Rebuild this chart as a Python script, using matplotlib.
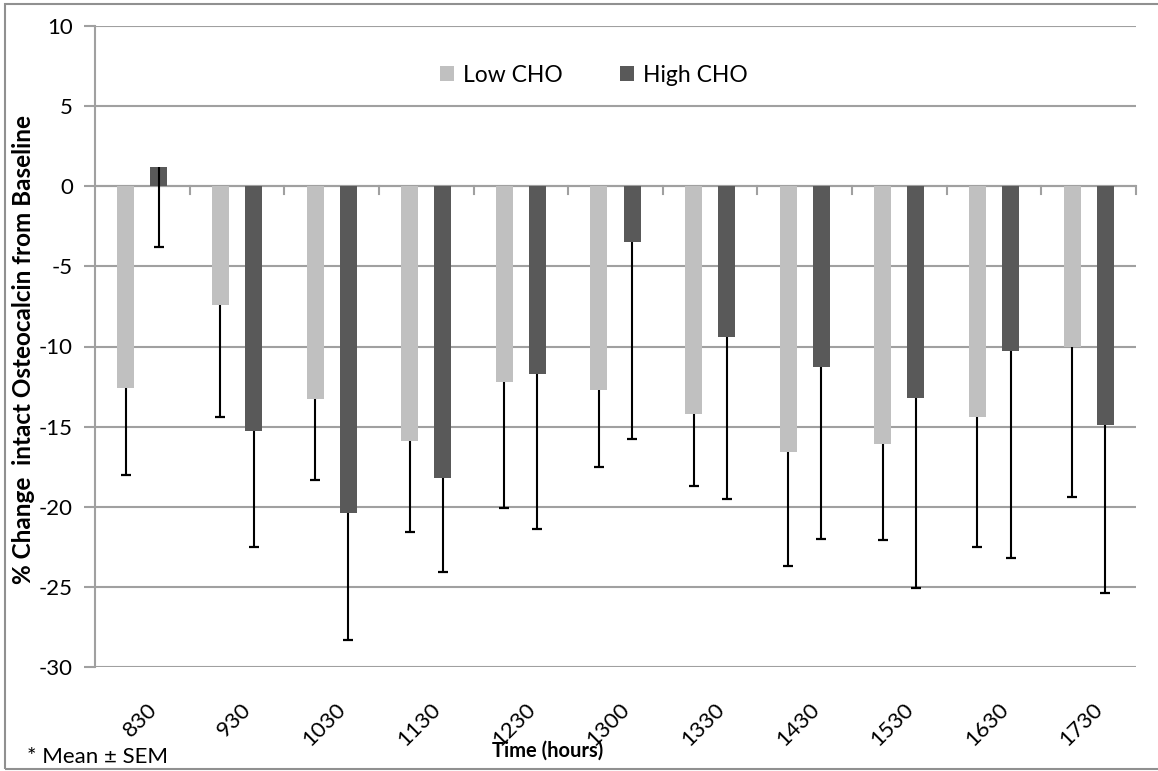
import numpy as np
import matplotlib.pyplot as plt
from matplotlib.patches import Rectangle

# data
times = ["830", "930", "1030", "1130", "1230", "1300", "1330", "1430", "1530", "1630", "1730"]
low_cho = [-12.6, -7.4, -13.3, -15.9, -12.2, -12.7, -14.2, -16.6, -16.1, -14.4, -10.0]
low_sem = [5.4, 7.0, 5.0, 5.7, 7.9, 4.8, 4.5, 7.1, 6.0, 8.1, 9.4]
high_cho = [1.2, -15.3, -20.4, -18.2, -11.7, -3.5, -9.4, -11.3, -13.2, -10.3, -14.9]
high_sem = [5.0, 7.2, 7.9, 5.9, 9.7, 12.3, 10.1, 10.7, 11.9, 12.9, 10.5]

plt.rcParams['font.family'] = ['Lato', 'DejaVu Sans']
plt.rcParams['axes.unicode_minus'] = False

fig = plt.figure(figsize=(11.58, 7.71), dpi=100)
ax = fig.add_axes([95/1158, 1 - 667/771, 1041/1158, 641/771])

x = np.arange(len(times))
w = 0.18
for off, vals, sem, col, lab in [(-0.175, low_cho, low_sem, '#c0c0c0', 'Low CHO'),
                                 (0.175, high_cho, high_sem, '#595959', 'High CHO')]:
    vals = np.array(vals)
    sem = np.array(sem)
    ax.bar(x + off, vals, w, color=col, label=lab, zorder=3)
    # only the minus side of the error bar, as in the original
    ax.vlines(x + off, vals - sem, vals, color='black', lw=1.5, zorder=4)
    ax.plot(x + off, vals - sem, ls='none', marker='_', ms=7, mew=1.6, color='black', zorder=4)

ax.set_xlim(-0.5, len(x) - 0.5)
ax.set_ylim(-30, 10)
ax.set_yticks(np.arange(-30, 11, 5))
ax.yaxis.grid(True, color='#a0a0a0', lw=1.5, zorder=0)
ax.tick_params(axis='y', length=8, width=1.5, color='#a0a0a0', labelsize=16, pad=8)

for s in ['top', 'right', 'bottom']:
    ax.spines[s].set_visible(False)
ax.spines['left'].set_color('#a0a0a0')
ax.spines['left'].set_linewidth(1.5)

# x axis at zero with ticks between categories
ax.axhline(0, color='#a0a0a0', lw=1.5, zorder=2)
ax.set_xticks(x)
ax.set_xticklabels([])
ax.tick_params(axis='x', length=0)
for b in np.arange(0.5, len(x), 1.0):
    ax.plot([b, b], [0, -0.5], color='#a0a0a0', lw=1.5, zorder=2, clip_on=False)
for xi, t in zip(x, times):
    ax.annotate(t, xy=(xi, -30), xytext=(3, -23), textcoords='offset points',
                rotation=45, ha='right', va='top', rotation_mode='anchor', fontsize=16)

ax.set_ylabel('% Change  intact Osteocalcin from Baseline', fontsize=17.5, fontweight='bold')
ax.yaxis.set_label_coords(-60/1041, (667 - 350)/641)
fig.text(548/1158, 1 - 751/771, 'Time (hours)', fontsize=14.5, fontweight='bold', ha='center', va='center')
fig.text(27/1158, 1 - 757/771, '* Mean ± SEM', fontsize=16, ha='left', va='center')

ax.legend(loc='center', bbox_to_anchor=(594/1158, 1 - 75/771), bbox_transform=fig.transFigure,
          ncol=2, frameon=False, fontsize=16.5, handlelength=0.6, handleheight=0.6,
          columnspacing=2.5, handletextpad=0.4)

fig.patches.append(Rectangle((5/1158, 1 - 769/771), 1.2, 765/771, transform=fig.transFigure,
                             fill=False, edgecolor='#909090', lw=1.5))

fig.savefig('out.png', dpi=100)
